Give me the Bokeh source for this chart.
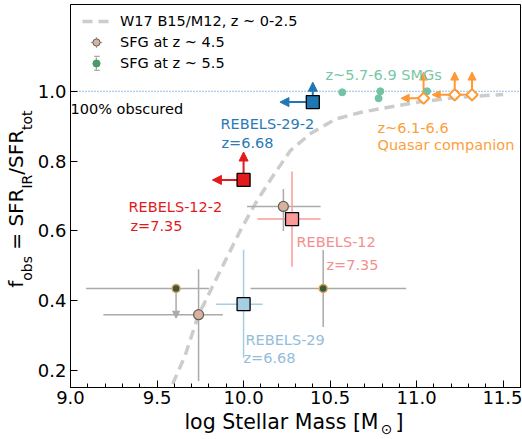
import math
from bokeh.plotting import figure
from bokeh.models import (ColumnDataSource, Label, Span, Arrow, NormalHead, Legend,
                          LegendItem, FixedTicker, PrintfTickFormatter, LinearAxis)
from bokeh.embed import file_html
from bokeh.resources import INLINE

NAN = float("nan")

# ---------------- data ----------------
# W17 B15/M12 relation, z~0-2.5
curve_mass = [9.55, 9.58, 9.66, 9.74, 9.82, 9.90, 9.98, 10.07, 10.16, 10.27, 10.39,
              10.53, 10.68, 10.79, 11.02, 11.25, 11.50]
curve_fobs = [0.12, 0.15, 0.24, 0.36, 0.44, 0.52, 0.60, 0.68, 0.75, 0.83, 0.88,
              0.92, 0.94, 0.95, 0.97, 0.983, 0.991]

# SFG at z~4.5
sfg45_mass = [9.74, 10.23]
sfg45_fobs = [0.36, 0.67]
sfg45_mass_lo = [9.19, 10.02]
sfg45_mass_hi = [9.88, 10.445]
sfg45_fobs_lo = [0.17, 0.60]
sfg45_fobs_hi = [0.49, 0.72]

# SFG at z~5.5 (first point is an upper limit)
sfg55_mass = [9.61, 10.46]
sfg55_fobs = [0.435, 0.435]
sfg55_mass_lo = [9.09, 10.04]
sfg55_mass_hi = [9.80, 10.94]
sfg55_fobs_lo = [NAN, 0.325]
sfg55_fobs_hi = [NAN, 0.545]
sfg55_upper_to = [0.35, NAN]

# REBELS detections
reb_names = ["REBELS-29", "REBELS-12"]
reb_z = ["z=6.68", "z=7.35"]
reb_mass = [10.00, 10.28]
reb_fobs = [0.39, 0.634]
reb_mass_lo = [9.84, 10.08]
reb_mass_hi = [10.11, 10.445]
reb_fobs_lo = [0.237, 0.497]
reb_fobs_hi = [0.546, 0.77]
reb_colors = ["#a6cee3", "#fb9a99"]
reb_text_colors = ["#94bddb", "#f38f8e"]

# REBELS lower limits
lim_names = ["REBELS-12-2", "REBELS-29-2"]
lim_z = ["z=7.35", "z=6.68"]
lim_mass = [10.00, 10.40]
lim_fobs = [0.746, 0.969]
lim_mass_to = [9.82, 10.21]
lim_fobs_to = [0.826, 1.026]
lim_colors = ["#e31a1c", "#1f78b4"]
lim_text_colors = ["#e31a1c", "#2a7ab8"]

# z~5.7-6.9 SMGs
smg_mass = [10.57, 10.78, 10.79, 11.06]
smg_fobs = [0.997, 0.98, 1.0, 1.0]

# z~6.1-6.6 quasar companions (lower limits)
qso_mass = [11.04, 11.22, 11.32]
qso_fobs = [0.98, 0.99, 0.99]
qso_mass_to = [10.91, 11.09, 11.19]
qso_fobs_to = [1.055, 1.055, 1.055]

obscured_level = 1.0

x_ticks = [9.0, 9.5, 10.0, 10.5, 11.0, 11.5]
x_minor_ticks = [9.1, 9.2, 9.3, 9.4, 9.6, 9.7, 9.8, 9.9, 10.1, 10.2, 10.3, 10.4,
                 10.6, 10.7, 10.8, 10.9, 11.1, 11.2, 11.3, 11.4, 11.6]
y_ticks = [0.2, 0.4, 0.6, 0.8, 1.0]

# ---------------- layout helpers ----------------
W, H = 522, 439
FRAME_L, FRAME_R, FRAME_T, FRAME_B = 70, 520, 4, 388
PY_ONE, PX_PER_Y = 91, 350.0
X0, X1 = 9.0, 11.6
PX_PER_X = (FRAME_R - FRAME_L) / (X1 - X0)
Y_TOP = 1.0 + (PY_ONE - FRAME_T) / PX_PER_Y
Y_BOT = 1.0 - (FRAME_B - PY_ONE) / PX_PER_Y


def px2x(px):
    return X0 + (px - FRAME_L) / PX_PER_X


def py2y(py):
    return 1.0 - (py - PY_ONE) / PX_PER_Y


FONT = "DejaVu Sans"

p = figure(width=W, height=H, x_range=(X0, X1), y_range=(Y_BOT, Y_TOP),
           output_backend="svg", toolbar_location=None,
           min_border_left=FRAME_L, min_border_right=W - FRAME_R,
           min_border_top=FRAME_T, min_border_bottom=H - FRAME_B)
p.xgrid.visible = False
p.ygrid.visible = False
p.outline_line_color = "black"
p.outline_line_width = 1
p.background_fill_color = "white"
p.border_fill_color = "white"

for ax in (p.xaxis[0], p.yaxis[0]):
    ax.major_tick_in = 7
    ax.major_tick_out = 0
    ax.minor_tick_in = 4
    ax.minor_tick_out = 0
    ax.major_tick_line_color = "black"
    ax.minor_tick_line_color = "black"
    ax.axis_line_color = "black"
    ax.major_label_text_font = FONT
    ax.major_label_text_font_size = "18px"
    ax.major_label_text_color = "black"
p.xaxis.ticker = FixedTicker(ticks=x_ticks, minor_ticks=x_minor_ticks)
p.yaxis.ticker = FixedTicker(ticks=y_ticks, minor_ticks=[])
p.xaxis.formatter = PrintfTickFormatter(format="%.1f")
p.yaxis.formatter = PrintfTickFormatter(format="%.1f")
p.xaxis.major_label_standoff = 3
p.yaxis.major_label_standoff = 4


def text_axis(side, centers, labels, font_size, standoff, orientation):
    ticks = [round(c, 6) for c in centers]
    ax = LinearAxis(ticker=FixedTicker(ticks=ticks, minor_ticks=[]),
                    major_label_overrides={t: s for t, s in zip(ticks, labels)},
                    major_label_text_font=FONT, major_label_text_font_size=font_size,
                    major_label_text_color="black", major_label_standoff=standoff,
                    major_label_orientation=orientation,
                    axis_line_color=None, major_tick_line_color=None,
                    minor_tick_line_color=None, major_tick_in=0, major_tick_out=0,
                    minor_tick_in=0, minor_tick_out=0)
    p.add_layout(ax, side)


# x axis title: log Stellar Mass [M_sun]
text_axis("below", [px2x(281.0), px2x(399.0)], ["log Stellar Mass [M", "]"], "20.5px", 3,
          "horizontal")
text_axis("below", [px2x(386.0)], ["\u2299"], "14px", -16, "horizontal")

# y axis title: f_obs = SFR_IR / SFR_tot (subscripts on an inner axis)
text_axis("left", [py2y(268.6), py2y(181.55), py2y(120.05)], ["obs", "IR", "tot"], "14px", -1,
          "parallel")
text_axis("left", [py2y(284.5), py2y(241.4), py2y(207.55), py2y(152.2)],
          ["f", "=", "SFR", "/SFR"], "20px", -12, "parallel")

# 100% obscured line
p.add_layout(Span(location=obscured_level, dimension="width", line_color="#2f7ebc",
                  line_dash="1 2", line_width=1, level="underlay"))

# relation curve
curve = p.line(curve_mass, curve_fobs, line_color="#cccccc", line_width=3.5, line_dash="10 6")

ERR = "#aaaaaa"
src45 = ColumnDataSource(dict(m=sfg45_mass, f=sfg45_fobs, mlo=sfg45_mass_lo, mhi=sfg45_mass_hi,
                              flo=sfg45_fobs_lo, fhi=sfg45_fobs_hi))
p.segment(x0="mlo", y0="f", x1="mhi", y1="f", source=src45, line_color=ERR, line_width=1.5)
p.segment(x0="m", y0="flo", x1="m", y1="fhi", source=src45, line_color=ERR, line_width=1.5)

src55 = ColumnDataSource(dict(m=sfg55_mass, f=sfg55_fobs, mlo=sfg55_mass_lo, mhi=sfg55_mass_hi,
                              flo=sfg55_fobs_lo, fhi=sfg55_fobs_hi))
p.segment(x0="mlo", y0="f", x1="mhi", y1="f", source=src55, line_color=ERR, line_width=1.5)
p.segment(x0="m", y0="flo", x1="m", y1="fhi", source=src55, line_color=ERR, line_width=1.5)
for m, f, to in zip(sfg55_mass, sfg55_fobs, sfg55_upper_to):
    if not math.isnan(to):
        p.add_layout(Arrow(end=NormalHead(size=7, fill_color=ERR, line_color=ERR),
                           x_start=m, y_start=f, x_end=m, y_end=to,
                           line_color=ERR, line_width=1.5, level="underlay"))

srcreb = ColumnDataSource(dict(m=reb_mass, f=reb_fobs, mlo=reb_mass_lo, mhi=reb_mass_hi,
                               flo=reb_fobs_lo, fhi=reb_fobs_hi, c=reb_colors))
p.segment(x0="mlo", y0="f", x1="mhi", y1="f", source=srcreb, line_color="c", line_width=1.5)
p.segment(x0="m", y0="flo", x1="m", y1="fhi", source=srcreb, line_color="c", line_width=1.5)

# lower limit arrows
for m, f, mt, ft, c in zip(lim_mass, lim_fobs, lim_mass_to, lim_fobs_to, lim_colors):
    for (xe, ye) in ((mt, f), (m, ft)):
        p.add_layout(Arrow(end=NormalHead(size=9, fill_color=c, line_color=c),
                           x_start=m, y_start=f, x_end=xe, y_end=ye,
                           line_color=c, line_width=2, level="underlay"))
QSO_C = "#ff9933"
for m, f, mt, ft in zip(qso_mass, qso_fobs, qso_mass_to, qso_fobs_to):
    for (xe, ye) in ((mt, f), (m, ft)):
        p.add_layout(Arrow(end=NormalHead(size=8, fill_color=QSO_C, line_color=QSO_C),
                           x_start=m, y_start=f, x_end=xe, y_end=ye,
                           line_color=QSO_C, line_width=2, level="underlay"))

# markers
p.scatter(sfg45_mass, sfg45_fobs, marker="circle", size=10, fill_color="#d9b29b",
          line_color="#606060", line_width=1.2)
p.scatter(sfg55_mass, sfg55_fobs, marker="circle", size=8, fill_color="#2e5c4c",
          line_color="#e8a040", line_width=1.5)
p.scatter(x="m", y="f", source=srcreb, marker="square", size=13, fill_color="c",
          line_color="black", line_width=1.3)
p.scatter(lim_mass, lim_fobs, marker="square", size=13, fill_color=lim_colors,
          line_color="black", line_width=1.3)
p.scatter(smg_mass, smg_fobs, marker="circle", size=7, fill_color="#70c3a3", line_color="#70c3a3")
p.scatter(qso_mass, qso_fobs, marker="square", angle=math.pi / 4, size=8, fill_color="white",
          line_color=QSO_C, line_width=2)

# ---------------- legend ----------------
# legend-only glyphs (legend markers are sized by the legend glyph box)
leg_cross = p.scatter([NAN], [NAN], marker="cross", line_color=ERR, line_width=1.3)
leg_bar = p.quad(left=[NAN], right=[NAN], bottom=[NAN], top=[NAN], fill_color=ERR,
                 line_color=None)
leg_circ = p.scatter([NAN], [NAN], marker="circle", fill_color="#d9b29b",
                     line_color="#606060", line_width=1)
leg_dot = p.scatter([NAN], [NAN], marker="circle", fill_color="#4a9a6a",
                    line_color="#4a9a6a")

LEG_X = 12                        # glyph-box left, from frame left
LEG_GLYPH_CX = FRAME_L + LEG_X + 14
LEG_ITEM_CENTERS = [22, 43, 64]   # item centres, page pixels


def bare_legend(renderer, box_w, box_h, center_y):
    # a label-less legend that only draws an error-bar sample behind the main legend
    lg = Legend(items=[LegendItem(label=" ", renderers=[renderer])],
                location=(LEG_GLYPH_CX - box_w / 2 - FRAME_L, FRAME_B - center_y - box_h / 2))
    lg.margin = 0
    lg.padding = 0
    lg.glyph_width = box_w
    lg.glyph_height = box_h
    lg.label_height = 0
    lg.label_standoff = 0
    lg.label_text_font_size = "1px"
    lg.label_text_alpha = 0
    lg.background_fill_alpha = 0
    lg.border_line_alpha = 0
    p.add_layout(lg)


bare_legend(leg_cross, 28, 28, LEG_ITEM_CENTERS[1])
bare_legend(leg_bar, 2, 17, LEG_ITEM_CENTERS[2])        # vertical error bar
bare_legend(leg_bar, 7, 2, LEG_ITEM_CENTERS[2] - 7)     # upper cap
bare_legend(leg_bar, 7, 2, LEG_ITEM_CENTERS[2] + 7)     # lower cap

legend = Legend(items=[
    LegendItem(label="W17 B15/M12, z ~ 0-2.5", renderers=[curve]),
    LegendItem(label="SFG at z ~ 4.5", renderers=[leg_circ]),
    LegendItem(label="SFG at z ~ 5.5", renderers=[leg_dot]),
], location=(LEG_X, FRAME_B - (LEG_ITEM_CENTERS[0] - 9) - 60))
legend.margin = 0
legend.padding = 0
legend.spacing = 3
legend.glyph_width = 28
legend.glyph_height = 18
legend.label_height = 18
legend.label_standoff = 10
legend.label_text_font = FONT
legend.label_text_font_size = "14.5px"
legend.label_text_color = "black"
legend.background_fill_alpha = 0
legend.border_line_alpha = 0
p.add_layout(legend)


def add_text(text, px, py, color="black", size="14.5px"):
    p.add_layout(Label(x=px2x(px), y=py2y(py), text=text, text_color=color,
                       text_font=FONT, text_font_size=size, text_align="left",
                       text_baseline="alphabetic"))


add_text("100% obscured", 70, 109)
# REBELS annotations
add_text(reb_names[0], 245, 340, reb_text_colors[0])
add_text(reb_z[0], 243, 358, reb_text_colors[0])
add_text(reb_names[1], 296, 242, reb_text_colors[1])
add_text(reb_z[1], 326, 265, reb_text_colors[1])
add_text(lim_names[0], 128, 207, lim_text_colors[0])
add_text(lim_z[0], 130, 226, lim_text_colors[0])
add_text(lim_names[1], 220, 124, lim_text_colors[1])
add_text(lim_z[1], 221, 143, lim_text_colors[1])
add_text("z~5.7-6.9 SMGs", 325, 75, "#78c6a6")
add_text("z~6.1-6.6", 377, 128, "#fca03c")
add_text("Quasar companion", 377, 145, "#fca03c")

open("out.html", "w").write(file_html(p, INLINE))
